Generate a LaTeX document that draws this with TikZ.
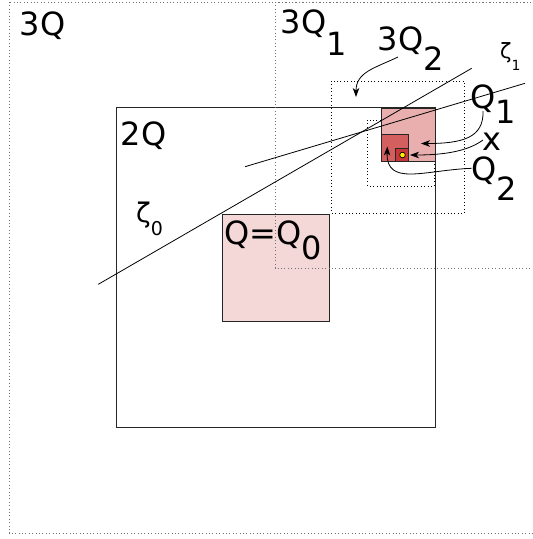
\documentclass[tikz,border=0pt]{standalone}
\usepackage{fontspec}
\setmainfont{DejaVu Sans}
\usetikzlibrary{arrows.meta}
\definecolor{qzero}{HTML}{F4D7D7}
\definecolor{qone}{HTML}{E9AFAF}
\definecolor{qtwo}{HTML}{D35F5F}
\definecolor{qthree}{HTML}{C83737}
\begin{document}
\begin{tikzpicture}[x=1pt,y=-1pt,
  box/.style={draw=black!85,line width=0.9pt},
  greydots/.style={draw=black!55,line width=0.9pt,dash pattern=on 1pt off 2.4pt},
  blackdots/.style={draw=black,line width=0.9pt,dash pattern=on 1pt off 2.4pt},
  lbl/.style={inner sep=0pt,anchor=base west,font=\fontsize{32}{32}\selectfont},
  zlbl/.style={inner sep=0pt,anchor=base west},
  edge/.style={line width=0.8pt},
  pointer/.style={line width=0.8pt,-{Stealth[length=9pt,width=6.5pt,inset=2.5pt]}}]
\useasboundingbox (0,0) rectangle (533,539);
\fill[white] (0,0) rectangle (533,539);
% 3Q
\draw[greydots] (9,2) rectangle (545,533);
% 2Q
\draw[box] (116,107.5) rectangle (435,427);
% Q0
\filldraw[box,fill=qzero] (222,214) rectangle (329,321);
% 3Q1
\draw[greydots] (275,2) rectangle (545,268);
% 3Q2 and inner dotted
\draw[blackdots] (331.7,81) rectangle (464.3,213.3);
\draw[blackdots] (367.7,120) rectangle (434,186);
% Q1, Q2, Q3
\filldraw[box,fill=qone] (381.5,108) rectangle (435,161.5);
\filldraw[box,fill=qtwo] (381.5,134.5) rectangle (408.5,161.5);
\filldraw[box,fill=qthree] (395,148) rectangle (408.5,161.5);
\filldraw[line width=0.7pt,fill=yellow] (402.5,155) circle (2.8);
% lines zeta0, zeta1
\coordinate (za) at (98.3,284.3);
\coordinate (zb) at (471.7,68.3);
\coordinate (zc) at (245,166.7);
\coordinate (zd) at (525,83.3);
\draw[edge] (za) -- (zb);
\draw[edge] (zc) -- (zd);
% labels
\node[lbl] (l3q) at (19.5,35.5) {3Q};
\node[lbl] (l2q) at (120.5,145.5) {2Q};
\node[lbl] (l3q1) at (280.5,33.5) {3Q\raisebox{-22pt}{1}};
\node[lbl] (l3q2) at (377.5,50.5) {3Q\raisebox{-20pt}{2}};
\node[lbl] (lq1) at (470,108.5) {Q\raisebox{-15pt}{1}};
\node[lbl] (lx) at (482,150) {x};
\node[lbl] (lq2) at (471,180.5) {Q\raisebox{-20pt}{2}};
\node[lbl] (lq0) at (224.5,244.5) {Q=Q\raisebox{-15pt}{0}};
\node[zlbl,font=\fontsize{27}{27}\selectfont] (lz0) at (136,222) {ζ\raisebox{-13pt}{\fontsize{19}{19}\selectfont 0}};
\node[zlbl,font=\fontsize{21}{21}\selectfont] (lz1) at (500,58) {ζ\raisebox{-12pt}{\fontsize{14}{14}\selectfont 1}};
% pointer end points
\coordinate (a1s) at (398,57);
\coordinate (a1e) at (356,97);
\coordinate (a2s) at (483,111);
\coordinate (a2e) at (421,143.5);
\coordinate (a3s) at (483,140);
\coordinate (a3e) at (410,155);
\coordinate (a4s) at (471.7,168.3);
\coordinate (a4e) at (387.3,146.5);
\draw[pointer] (a1s) .. controls (375,68) and (356,72) .. (a1e);
\draw[pointer] (a2s) .. controls (484,138) and (462,143.5) .. (a2e);
\draw[pointer] (a3s) .. controls (468,151) and (445,155) .. (a3e);
\draw[pointer] (a4s) .. controls (425,170) and (386,187) .. (a4e);
\end{tikzpicture}
\end{document}
